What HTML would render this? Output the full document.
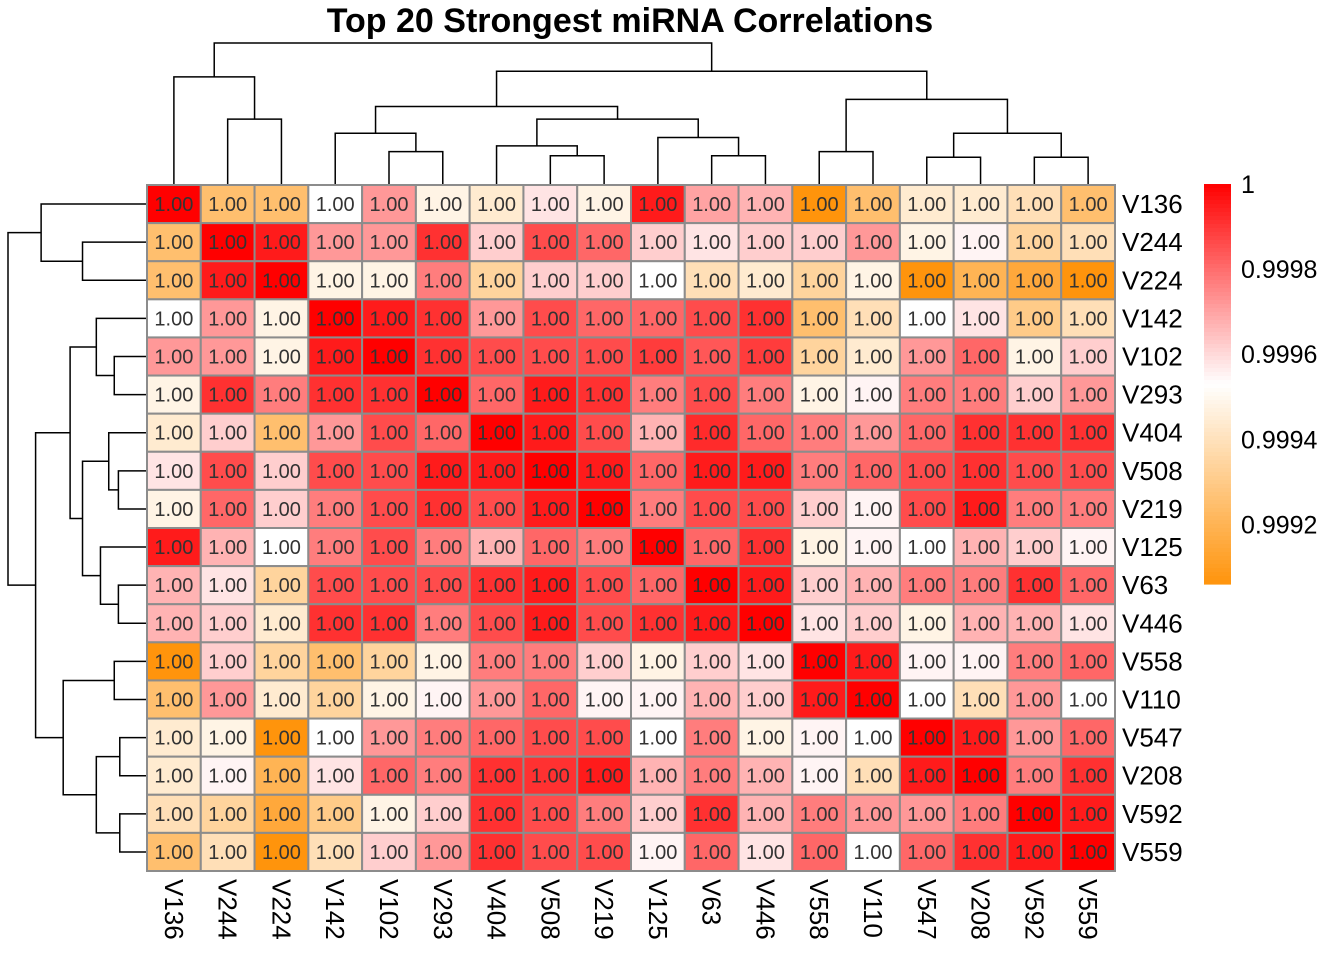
<!DOCTYPE html>
<html><head><meta charset="utf-8"><style>
html,body{margin:0;padding:0;background:#fff;}
svg{display:block;font-family:"Liberation Sans",Arial,sans-serif;}
</style></head><body>
<svg id="chart" width="1344" height="960" viewBox="0 0 1344 960" xmlns="http://www.w3.org/2000/svg">
<text x="630" y="32" text-anchor="middle" font-size="34" font-weight="bold" fill="#000">Top 20 Strongest miRNA Correlations</text>
<g id="dendTop"></g>
<g id="dendLeft"></g>
<g id="cells"></g>
<g id="rowLabels"></g>
<g id="colLabels"></g>
<g id="legend"></g>
</svg>
<script>
const labels = ["V136","V244","V224","V142","V102","V293","V404","V508","V219","V125","V63","V446","V558","V110","V547","V208","V592","V559"];
const corr = [
[1.00000,0.99925,0.99925,0.99953,0.99972,0.99948,0.99944,0.99958,0.99948,0.99995,0.99970,0.99967,0.99906,0.99925,0.99944,0.99944,0.99939,0.99925],
[0.99925,1.00000,0.99995,0.99972,0.99972,0.99991,0.99962,0.99986,0.99981,0.99962,0.99958,0.99962,0.99962,0.99972,0.99948,0.99955,0.99934,0.99939],
[0.99925,0.99995,1.00000,0.99948,0.99948,0.99977,0.99934,0.99962,0.99962,0.99953,0.99939,0.99944,0.99934,0.99948,0.99906,0.99920,0.99915,0.99906],
[0.99953,0.99972,0.99948,1.00000,0.99995,0.99991,0.99972,0.99986,0.99981,0.99981,0.99986,0.99991,0.99925,0.99939,0.99953,0.99958,0.99930,0.99939],
[0.99972,0.99972,0.99948,0.99995,1.00000,0.99991,0.99986,0.99986,0.99986,0.99989,0.99984,0.99989,0.99934,0.99944,0.99972,0.99981,0.99948,0.99962],
[0.99948,0.99991,0.99977,0.99991,0.99991,1.00000,0.99981,0.99995,0.99991,0.99977,0.99986,0.99977,0.99948,0.99955,0.99977,0.99977,0.99962,0.99972],
[0.99944,0.99962,0.99925,0.99972,0.99986,0.99981,1.00000,0.99995,0.99986,0.99967,0.99992,0.99981,0.99977,0.99972,0.99981,0.99991,0.99991,0.99991],
[0.99958,0.99986,0.99962,0.99986,0.99986,0.99995,0.99995,1.00000,0.99995,0.99981,0.99995,0.99995,0.99977,0.99981,0.99986,0.99991,0.99986,0.99986],
[0.99948,0.99981,0.99962,0.99977,0.99986,0.99991,0.99986,0.99995,1.00000,0.99977,0.99986,0.99986,0.99962,0.99955,0.99986,0.99995,0.99977,0.99977],
[0.99995,0.99967,0.99953,0.99977,0.99986,0.99977,0.99967,0.99981,0.99977,1.00000,0.99981,0.99991,0.99948,0.99955,0.99953,0.99967,0.99962,0.99955],
[0.99967,0.99958,0.99934,0.99986,0.99986,0.99986,0.99991,0.99995,0.99986,0.99981,1.00000,0.99995,0.99962,0.99967,0.99977,0.99977,0.99991,0.99981],
[0.99967,0.99962,0.99944,0.99991,0.99991,0.99977,0.99986,0.99995,0.99986,0.99991,0.99995,1.00000,0.99958,0.99962,0.99948,0.99967,0.99967,0.99958],
[0.99906,0.99962,0.99934,0.99925,0.99934,0.99948,0.99977,0.99977,0.99962,0.99948,0.99962,0.99958,1.00000,0.99995,0.99955,0.99955,0.99977,0.99981],
[0.99925,0.99972,0.99944,0.99934,0.99948,0.99955,0.99972,0.99981,0.99955,0.99955,0.99967,0.99962,0.99995,1.00000,0.99953,0.99939,0.99972,0.99953],
[0.99944,0.99948,0.99906,0.99953,0.99972,0.99977,0.99981,0.99986,0.99986,0.99953,0.99977,0.99948,0.99955,0.99953,1.00000,0.99995,0.99972,0.99981],
[0.99944,0.99955,0.99920,0.99958,0.99981,0.99977,0.99991,0.99991,0.99995,0.99967,0.99977,0.99967,0.99955,0.99939,0.99995,1.00000,0.99977,0.99991],
[0.99939,0.99934,0.99915,0.99930,0.99948,0.99962,0.99991,0.99986,0.99977,0.99962,0.99991,0.99967,0.99977,0.99972,0.99972,0.99977,1.00000,0.99995],
[0.99925,0.99939,0.99906,0.99939,0.99962,0.99972,0.99991,0.99986,0.99986,0.99955,0.99981,0.99958,0.99981,0.99953,0.99981,0.99991,0.99995,1.00000]
];
const legendTicks = [1, 0.9998, 0.9996, 0.9994, 0.9992];
const legendTickLabels = ["1","0.9998","0.9996","0.9994","0.9992"];
// merge tree: [leftChild,rightChild,height] ; leaves are indices
const tree = [[0,[1,2,0.46],0.76],[[[3,[4,5,0.23],0.36],[[6,[7,8,0.20],0.27],[9,[10,11,0.20],0.33],0.46],0.55],[[12,13,0.23],[[14,15,0.19],[16,17,0.19],0.36],0.60],0.80],1.0];

const NS="http://www.w3.org/2000/svg";
const X0=147,Y0=185,W=968,H=686,n=labels.length,cw=W/n,ch=H/n;
const vmin=0.99906,vmid=0.99953,vmax=1.0;
function color(v){
  let r,g,b;
  if(v<vmid){const t=Math.max(0,(v-vmin)/(vmid-vmin));r=255;g=148+(255-148)*t;b=12+(255-12)*t;}
  else{const t=Math.min(1,(v-vmid)/(vmax-vmid));r=255;g=255*(1-t);b=255*(1-t);}
  return `rgb(${Math.round(r)},${Math.round(g)},${Math.round(b)})`;
}
function el(tag,attrs,parent){const e=document.createElementNS(NS,tag);for(const k in attrs)e.setAttribute(k,attrs[k]);parent.appendChild(e);return e;}
const cells=document.getElementById('cells');
for(let i=0;i<n;i++)for(let j=0;j<n;j++){
  const r=el('rect',{x:X0+j*cw,y:Y0+i*ch,width:cw,height:ch,fill:color(corr[i][j]),stroke:'#8c8c8c','stroke-width':2},cells);
  
  
  const t=el('text',{x:X0+j*cw+cw/2,y:Y0+i*ch+ch/2+7,'text-anchor':'middle','font-size':20,fill:'#333'},cells);
  
  
  t.textContent=corr[i][j].toFixed(2);
}
const rl=document.getElementById('rowLabels'),cl=document.getElementById('colLabels');
labels.forEach((l,i)=>{
  const t=el('text',{x:1122,y:Y0+i*ch+ch/2+9,'font-size':26,fill:'#000'},rl);
  
  
  t.textContent=l;
  const cx=X0+i*cw+cw/2;
  const c=el('text',{x:0,y:0,'font-size':26,fill:'#000',transform:`translate(${cx-9},879) rotate(90)`},cl);
  
  
  c.textContent=l;
});
const dt=document.getElementById('dendTop'),dl=document.getElementById('dendLeft');
function hTop(h){return 184-h*(184-43);}
function hLeft(h){return 146-h*(146-8);}
function draw(node){
  if(typeof node==='number')return {pos:node,h:0};
  const a=draw(node[0]),b=draw(node[1]),h=node[2];
  const ax=X0+(a.pos+0.5)*cw,bx=X0+(b.pos+0.5)*cw;
  const p1=el('path',{d:`M${ax},${hTop(a.h)}V${hTop(h)}H${bx}V${hTop(b.h)}`,fill:'none',stroke:'#000','stroke-width':1.5},dt);
  
  
  const ay=Y0+(a.pos+0.5)*ch,by=Y0+(b.pos+0.5)*ch;
  const p2=el('path',{d:`M${hLeft(a.h)},${ay}H${hLeft(h)}V${by}H${hLeft(b.h)}`,fill:'none',stroke:'#000','stroke-width':1.5},dl);
  
  
  return {pos:(a.pos+b.pos)/2,h:h};
}
draw(tree);
const lg=document.getElementById('legend');
const LY0=184,LY1=584,LX=1204,LW=27;
const lv2y=v=>LY0+(vmax-v)/(vmax-vmin)*(LY1-LY0);
const steps=100;
for(let k=0;k<steps;k++){
  const v=vmax-(k+0.5)/steps*(vmax-vmin);
  const r=el('rect',{x:LX,y:LY0+k*(LY1-LY0)/steps,width:LW,height:(LY1-LY0)/steps+0.6,fill:color(v)},lg);
  
  
}
legendTicks.forEach((v,i)=>{
  const t=el('text',{x:1241,y:lv2y(v)+9,'font-size':25,fill:'#000'},lg);
  
  
  t.textContent=legendTickLabels[i];
});
</script>
</body></html>
